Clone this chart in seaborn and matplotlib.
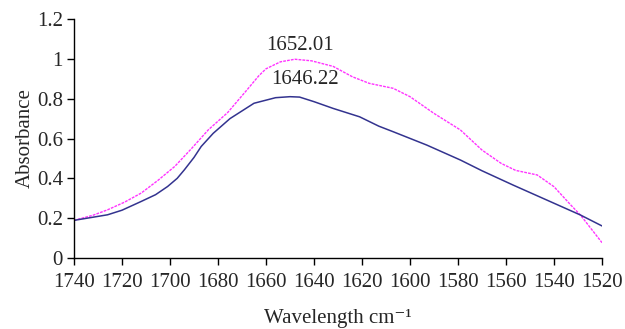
import numpy as np
import pandas as pd
import matplotlib
matplotlib.use("Agg")
import matplotlib.pyplot as plt
import seaborn as sns
from matplotlib.ticker import FuncFormatter, MultipleLocator

# ---- data ----
blue_wn = [1740, 1732, 1726, 1720, 1712, 1706, 1701, 1697, 1694, 1690, 1687, 1682, 1675,
           1665, 1656, 1650, 1646, 1640, 1632, 1621, 1613, 1607, 1593, 1579,
           1570, 1557, 1543, 1529, 1520]
blue_abs = [0.189, 0.205, 0.217, 0.240, 0.284, 0.318, 0.359, 0.400, 0.443, 0.505, 0.560, 0.626, 0.700,
            0.777, 0.805, 0.810, 0.808, 0.785, 0.751, 0.709, 0.662, 0.634, 0.567, 0.492,
            0.438, 0.366, 0.291, 0.216, 0.161]

pink_wn = [1740, 1732, 1726, 1719, 1712, 1705, 1698, 1691, 1684, 1676, 1668,
           1663, 1660, 1654, 1648, 1641, 1632, 1624, 1617, 1607, 1600, 1590, 1579,
           1570, 1562, 1556, 1547, 1540, 1533, 1529, 1520]
pink_abs = [0.189, 0.215, 0.242, 0.280, 0.326, 0.390, 0.460, 0.550, 0.644, 0.730, 0.843,
            0.915, 0.950, 0.985, 0.998, 0.990, 0.962, 0.910, 0.877, 0.852, 0.810, 0.726, 0.643,
            0.542, 0.475, 0.440, 0.417, 0.358, 0.266, 0.216, 0.077]

peak_labels = ["1652.01", "1646.22"]
peak_pos = [(1646.0, 1.065), (1643.8, 0.895)]   # text anchor (wavenumber, absorbance)

blue_color = "#33338F"
pink_color = "#FF33FF"

df_blue = pd.DataFrame({"wn": blue_wn, "A": blue_abs})
df_pink = pd.DataFrame({"wn": pink_wn, "A": pink_abs})

sns.set_style("ticks")
plt.rcParams["font.family"] = ["Liberation Serif", "DejaVu Serif"]
plt.rcParams["font.size"] = 15

fig = plt.figure(figsize=(6.25, 3.29), dpi=100)
ax = fig.add_axes([0.1184, 0.2158, 0.9632 - 0.1184, 0.9422 - 0.2158])

sns.lineplot(data=df_pink, x="wn", y="A", ax=ax, color=pink_color, lw=1.0,
             linestyle=(0, (2.0, 0.8)), estimator=None, sort=False)
sns.lineplot(data=df_blue, x="wn", y="A", ax=ax, color=blue_color, lw=1.1,
             estimator=None, sort=False)

for txt, (x, y) in zip(peak_labels, peak_pos):
    ax.text(x, y, txt, ha="center", va="center", fontsize=15)

ax.set_xlim(1740, 1520)
ax.set_ylim(0, 1.2)
ax.xaxis.set_major_locator(MultipleLocator(20))
ax.yaxis.set_major_locator(MultipleLocator(0.2))
ax.yaxis.set_major_formatter(FuncFormatter(lambda v, p: f"{v:g}"))

for s in ["top", "right"]:
    ax.spines[s].set_visible(False)
for s in ["left", "bottom"]:
    ax.spines[s].set_color("black")
    ax.spines[s].set_linewidth(1.0)

ax.tick_params(axis="both", direction="out", length=5, width=1.0, color="black",
               labelsize=15)
ax.tick_params(axis="x", pad=6)
ax.tick_params(axis="y", pad=3)

ax.set_xlabel("Wavelength cm\u207b\u00b9", fontsize=15)
ax.set_ylabel("Absorbance", fontsize=15)
ax.xaxis.set_label_coords(0.5, -0.215)
ax.yaxis.set_label_coords(-0.074, 0.5)

fig.savefig("out.png", dpi=100)
